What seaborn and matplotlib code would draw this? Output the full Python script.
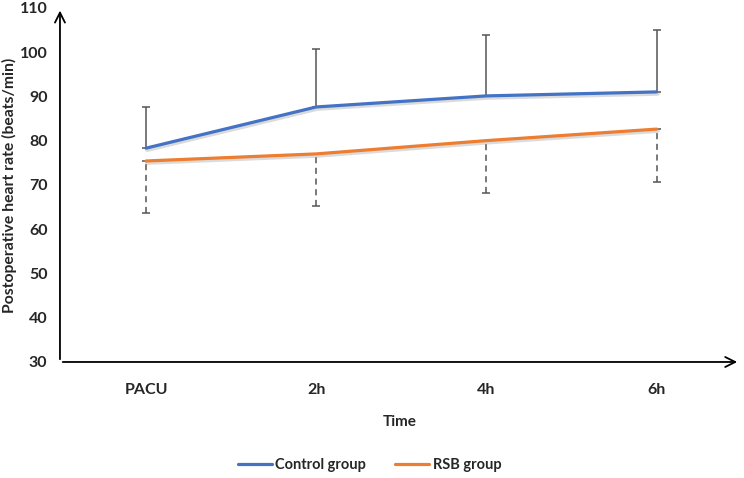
import matplotlib
matplotlib.use("Agg")
import matplotlib.pyplot as plt
import matplotlib.patheffects as pe
import pandas as pd
import seaborn as sns

# values
times = ["PACU", "2h", "4h", "6h"]
control_mean = [78.3, 87.6, 90.1, 91.0]
control_sd = [9.4, 13.0, 13.8, 13.9]
rsb_mean = [75.4, 77.0, 80.0, 82.6]
rsb_sd = [11.7, 11.7, 11.8, 11.9]

df = pd.DataFrame({
    "Time": times * 2,
    "HR": control_mean + rsb_mean,
    "Group": ["Control group"] * 4 + ["RSB group"] * 4,
})

sns.set_style("white")
plt.rcParams["font.family"] = ["Lato", "DejaVu Sans"]
plt.rcParams["font.weight"] = "bold"

fig = plt.figure(figsize=(7.44, 4.78), dpi=100)
ax = fig.add_axes([0.0806, 0.2427, 0.914, 0.741])

palette = {"Control group": "#4472C4", "RSB group": "#ED7D31"}
shadow = [pe.SimpleLineShadow(offset=(0.8, -1.2), shadow_color="0.6", alpha=0.35, linewidth=3.2),
          pe.Normal()]

# error bars: control upward (solid), RSB downward (dashed)
xs = list(range(len(times)))
eb1 = ax.errorbar(xs, control_mean, yerr=[[0] * 4, control_sd], fmt="none",
                  ecolor="#555555", elinewidth=1.1, capsize=3, capthick=1.1, zorder=1)
eb2 = ax.errorbar(xs, rsb_mean, yerr=[rsb_sd, [0] * 4], fmt="none",
                  ecolor="#555555", elinewidth=1.1, capsize=3, capthick=1.1, zorder=1)
for c in eb2[2]:
    c.set_linestyle((0, (4, 3)))

sns.lineplot(data=df, x="Time", y="HR", hue="Group", palette=palette,
             linewidth=2.3, ax=ax, sort=False, zorder=3)
for line in ax.lines:
    if line.get_linewidth() > 2:
        line.set_path_effects(shadow)

ax.set_xlim(-0.506, 3.49)
ax.set_ylim(30, 110)
ax.set_yticks(range(30, 111, 10))
ax.tick_params(axis="both", length=0, labelsize=11.5, pad=15)
ax.tick_params(axis="y", pad=9)
for lab in ax.get_xticklabels() + ax.get_yticklabels():
    lab.set_fontweight("bold")

ax.set_xlabel("Time", fontsize=11, fontweight="bold", labelpad=13)
ax.set_ylabel("Postoperative heart rate (beats/min)", fontsize=11.3, fontweight="bold")
ax.yaxis.set_label_coords(-0.063, 0.5)

for s in ["top", "right", "left", "bottom"]:
    ax.spines[s].set_visible(False)
ax.annotate("", xy=(1.0, 0), xytext=(0, 0), xycoords="axes fraction",
            arrowprops=dict(arrowstyle="->", color="black", lw=1.3, mutation_scale=18))
ax.annotate("", xy=(0, 1.0), xytext=(0, 0), xycoords="axes fraction",
            arrowprops=dict(arrowstyle="->", color="black", lw=1.3, mutation_scale=18))

handles, labels = ax.get_legend_handles_labels()
ax.get_legend().remove()
leg = fig.legend(handles, labels, loc="center", bbox_to_anchor=(0.497, 0.028), ncol=2,
                 frameon=False, prop={"size": 10.5, "weight": "bold"},
                 handlelength=2.3, columnspacing=2.0, handletextpad=0.25)
for h in leg.get_lines():
    h.set_path_effects([])

fig.savefig("out.png", dpi=100)
